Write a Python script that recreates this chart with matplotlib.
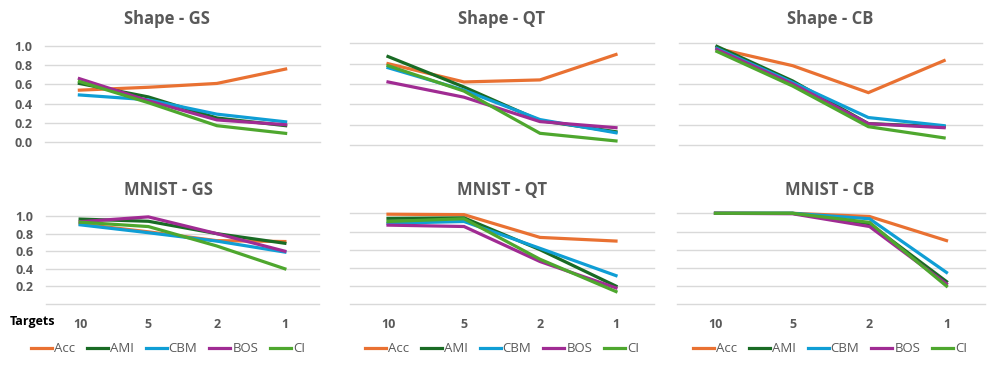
import matplotlib.pyplot as plt

plt.rcParams['font.family'] = ['Open Sans', 'DejaVu Sans']

targets = ['10', '5', '2', '1']
metrics = ['Acc', 'AMI', 'CBM', 'BOS', 'CI']
colors = ['#E97132', '#196B24', '#0F9ED5', '#A02B93', '#4EA72E']

shape_gs = {'Acc': [0.54, 0.57, 0.61, 0.76],
            'AMI': [0.61, 0.47, 0.25, 0.17],
            'CBM': [0.49, 0.44, 0.29, 0.21],
            'BOS': [0.66, 0.43, 0.23, 0.18],
            'CI':  [0.63, 0.41, 0.17, 0.09]}
shape_qt = {'Acc': [0.80, 0.62, 0.64, 0.89],
            'AMI': [0.87, 0.57, 0.24, 0.13],
            'CBM': [0.76, 0.54, 0.25, 0.12],
            'BOS': [0.62, 0.47, 0.23, 0.17],
            'CI':  [0.78, 0.53, 0.115, 0.04]}
shape_cb = {'Acc': [0.95, 0.78, 0.515, 0.83],
            'AMI': [0.97, 0.63, 0.21, 0.18],
            'CBM': [0.95, 0.615, 0.27, 0.19],
            'BOS': [0.94, 0.60, 0.21, 0.17],
            'CI':  [0.92, 0.58, 0.18, 0.07]}
mnist_gs = {'Acc': [0.91, 0.82, 0.72, 0.71],
            'AMI': [0.965, 0.94, 0.80, 0.69],
            'CBM': [0.90, 0.81, 0.715, 0.59],
            'BOS': [0.935, 0.99, 0.80, 0.60],
            'CI':  [0.93, 0.88, 0.66, 0.40]}
mnist_qt = {'Acc': [0.99, 0.985, 0.735, 0.695],
            'AMI': [0.945, 0.95, 0.60, 0.20],
            'CBM': [0.89, 0.91, 0.615, 0.315],
            'BOS': [0.87, 0.855, 0.47, 0.18],
            'CI':  [0.91, 0.94, 0.495, 0.14]}
mnist_cb = {'Acc': [1.0, 1.0, 0.965, 0.70],
            'AMI': [1.0, 1.0, 0.885, 0.25],
            'CBM': [1.0, 1.0, 0.94, 0.35],
            'BOS': [1.0, 0.995, 0.855, 0.225],
            'CI':  [1.0, 1.0, 0.90, 0.20]}

W, H = 996, 368
fig = plt.figure(figsize=(W / 100, H / 100), dpi=100)
GRAY = '#595959'

# (data, title, plot box in pixels x0, x1, y_top, y_bottom, title centre x, y, row)
panels = [
    (shape_gs, 'Shape - GS', (45, 320, 46, 142), (167, 19), 0),
    (shape_qt, 'Shape - QT', (350, 654, 43.3, 145), (502, 19), 0),
    (shape_cb, 'Shape - CB', (679, 982, 43.3, 145), (830, 19), 0),
    (mnist_gs, 'MNIST - GS', (46, 319, 216, 304), (168, 190), 1),
    (mnist_qt, 'MNIST - QT', (350, 654, 213.3, 304.3), (502, 190), 1),
    (mnist_cb, 'MNIST - CB', (677, 985, 213.3, 304.3), (830, 190), 1),
]

for i, (data, title, (x0, x1, yt, yb), (tx, ty), row) in enumerate(panels):
    ax = fig.add_axes([x0 / W, 1 - yb / H, (x1 - x0) / W, (yb - yt) / H])
    xs = range(len(targets))
    for m, c in zip(metrics, colors):
        ax.plot(xs, data[m], color=c, lw=2.3, label=m, clip_on=False,
                solid_joinstyle='miter', zorder=3)
    ax.set_xlim(-0.5, len(targets) - 0.5)
    ax.set_ylim(0, 1)
    ax.set_yticks([0, 0.2, 0.4, 0.6, 0.8, 1.0])
    for y in [0, 0.2, 0.4, 0.6, 0.8, 1.0]:
        ax.axhline(y, color='#D9D9D9', lw=1, zorder=1, clip_on=False)
    for s in ax.spines.values():
        s.set_visible(False)
    ax.tick_params(length=0)
    if i % 3 == 0:
        if row == 0:
            ax.set_yticklabels(['0.0', '0.2', '0.4', '0.6', '0.8', '1.0'])
        else:
            ax.set_yticklabels(['', '0.2', '0.4', '0.6', '0.8', '1.0'])
        for t in ax.get_yticklabels():
            t.set_fontweight('bold')
            t.set_color(GRAY)
            t.set_fontsize(9)
        ax.tick_params(axis='y', pad=9)
    else:
        ax.set_yticklabels([])
    ax.set_xticks(list(xs))
    if row == 1:
        ax.set_xticklabels(targets, fontsize=9, fontweight='bold', color=GRAY)
        ax.tick_params(axis='x', pad=10)
        ax.legend(loc='center', bbox_to_anchor=(tx / W, 1 - 349 / H),
                  bbox_transform=fig.transFigure, ncol=5, frameon=False,
                  fontsize=9.5, handlelength=1.6, handletextpad=0.15,
                  columnspacing=0.9, labelcolor=GRAY, borderpad=0)
    else:
        ax.set_xticklabels([])
    fig.text(tx / W, 1 - ty / H, title, ha='center', va='center',
             fontsize=12, fontweight='bold', color=GRAY)

fig.text(10 / W, 1 - 322 / H, 'Targets', ha='left', va='center',
         fontsize=9, fontweight='bold', color='black')

fig.savefig('out.png', dpi=100)
